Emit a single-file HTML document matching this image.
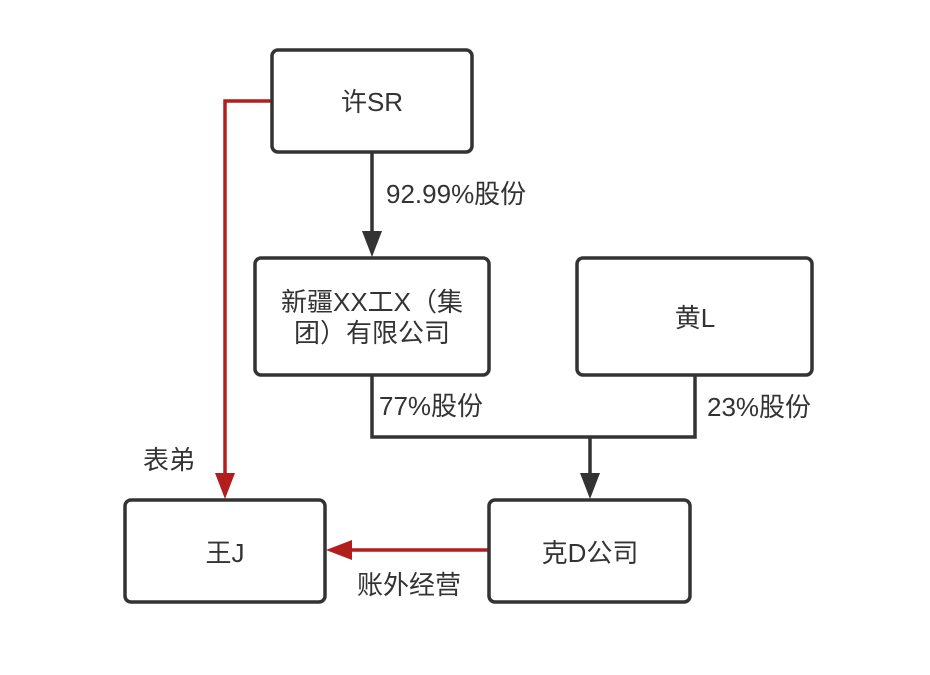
<!DOCTYPE html>
<html>
<head>
<meta charset="utf-8">
<style>
  html, body { margin: 0; padding: 0; background: #ffffff; }
  svg { display: block; }
  text { font-family: "Liberation Sans", "Noto Sans CJK SC", sans-serif; font-size: 26px; fill: #333333; }
</style>
</head>
<body>
<svg width="930" height="675" viewBox="0 0 930 675" xmlns="http://www.w3.org/2000/svg">
  <rect x="0" y="0" width="930" height="675" fill="#ffffff"/>

  <!-- connectors -->
  <g fill="none" stroke-width="3.5">
    <line x1="372" y1="152" x2="372" y2="234" stroke="#333333"/>
    <polyline points="372,375 372,437 695,437 695,375" stroke="#333333"/>
    <line x1="590" y1="437" x2="590" y2="476" stroke="#333333"/>
    <polyline points="272,101 225,101 225,476" stroke="#b21e1e"/>
    <line x1="489" y1="550" x2="348" y2="550" stroke="#b21e1e"/>
  </g>
  <polygon points="362,231 382,231 372,257" fill="#333333"/>
  <polygon points="580,473 600,473 590,499" fill="#333333"/>
  <polygon points="215,473 235,473 225,499" fill="#b21e1e"/>
  <polygon points="352,540 352,560 326,550" fill="#b21e1e"/>

  <!-- boxes -->
  <g fill="#ffffff" stroke="#333333" stroke-width="3.5">
    <rect x="272" y="50" width="200" height="102" rx="6" ry="6"/>
    <rect x="255" y="258" width="234" height="117" rx="6" ry="6"/>
    <rect x="577" y="258" width="235" height="117" rx="6" ry="6"/>
    <rect x="489" y="500" width="201" height="102" rx="6" ry="6"/>
    <rect x="125" y="500" width="200" height="102" rx="6" ry="6"/>
  </g>

  <!-- labels -->
  <text x="372" y="111" text-anchor="middle">许SR</text>
  <text x="386" y="203">92.99%股份</text>
  <text x="372" y="311" text-anchor="middle">新疆XX工X（集</text>
  <text x="372" y="342" text-anchor="middle">团）有限公司</text>
  <text x="695" y="327" text-anchor="middle">黄L</text>
  <text x="379" y="415">77%股份</text>
  <text x="707" y="416">23%股份</text>
  <text x="143" y="469">表弟</text>
  <text x="225" y="562" text-anchor="middle">王J</text>
  <text x="357" y="594">账外经营</text>
  <text x="590" y="562" text-anchor="middle">克D公司</text>
</svg>
</body>
</html>
